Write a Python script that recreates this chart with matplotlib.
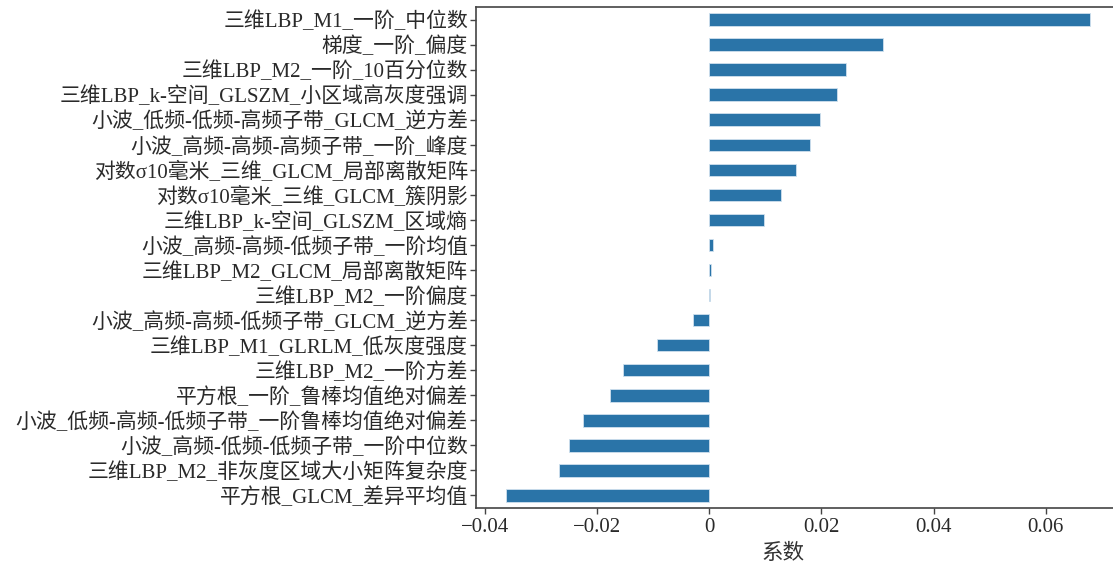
import numpy as np
import matplotlib
matplotlib.use("Agg")
import matplotlib.pyplot as plt
from matplotlib.ticker import FixedLocator, FixedFormatter

plt.rcParams['font.family'] = ['Liberation Serif', 'Noto Sans CJK SC', 'DejaVu Sans']
plt.rcParams['axes.unicode_minus'] = True

# feature names, top to bottom
features = [
    "三维LBP_M1_一阶_中位数",
    "梯度_一阶_偏度",
    "三维LBP_M2_一阶_10百分位数",
    "三维LBP_k-空间_GLSZM_小区域高灰度强调",
    "小波_低频-低频-高频子带_GLCM_逆方差",
    "小波_高频-高频-高频子带_一阶_峰度",
    "对数σ10毫米_三维_GLCM_局部离散矩阵",
    "对数σ10毫米_三维_GLCM_簇阴影",
    "三维LBP_k-空间_GLSZM_区域熵",
    "小波_高频-高频-低频子带_一阶均值",
    "三维LBP_M2_GLCM_局部离散矩阵",
    "三维LBP_M2_一阶偏度",
    "小波_高频-高频-低频子带_GLCM_逆方差",
    "三维LBP_M1_GLRLM_低灰度强度",
    "三维LBP_M2_一阶方差",
    "平方根_一阶_鲁棒均值绝对偏差",
    "小波_低频-高频-低频子带_一阶鲁棒均值绝对偏差",
    "小波_高频-低频-低频子带_一阶中位数",
    "三维LBP_M2_非灰度区域大小矩阵复杂度",
    "平方根_GLCM_差异平均值",
]
coefs = [
    0.0679, 0.0309, 0.0243, 0.0227, 0.0197, 0.0179, 0.0154, 0.0128, 0.0097,
    0.0006, 0.0003, 0.0001, -0.0030, -0.0093, -0.0155, -0.0178, -0.0226,
    -0.0251, -0.0269, -0.0364,
]
xtick_vals = [-0.04, -0.02, 0, 0.02, 0.04, 0.06]
xtick_labels = ["\u22120.04", "\u22120.02", "0", "0.02", "0.04", "0.06"]

fig = plt.figure(figsize=(11.13, 5.65), dpi=100)
ax = fig.add_axes([0.428, 0.1009, 0.5774, 0.8867])

# lowest row is the last feature
ypos = np.arange(len(features))
ax.barh(ypos, coefs[::-1], height=0.5, color="#2a74a8",
        edgecolor="#cfe0ee", linewidth=0.6)
ax.set_yticks(ypos)
ax.set_yticklabels(features[::-1])
ax.set_ylim(-0.5, len(features) - 0.5)

ax.xaxis.set_major_locator(FixedLocator(xtick_vals))
ax.xaxis.set_major_formatter(FixedFormatter(xtick_labels))

ax.set_xlabel("系数", fontsize=15.5, color="#333333")
ax.xaxis.set_label_coords(0.477, -0.072)

for side in ["left", "bottom", "top", "right"]:
    ax.spines[side].set_color("#444444")
    ax.spines[side].set_linewidth(1.2)

ax.tick_params(axis="both", labelsize=15, colors="#444444",
               labelcolor="#2a2a2a", length=4, width=1)
ax.tick_params(axis="y", pad=2)
ax.tick_params(axis="x", pad=3)

fig.savefig("out.png", dpi=100)
